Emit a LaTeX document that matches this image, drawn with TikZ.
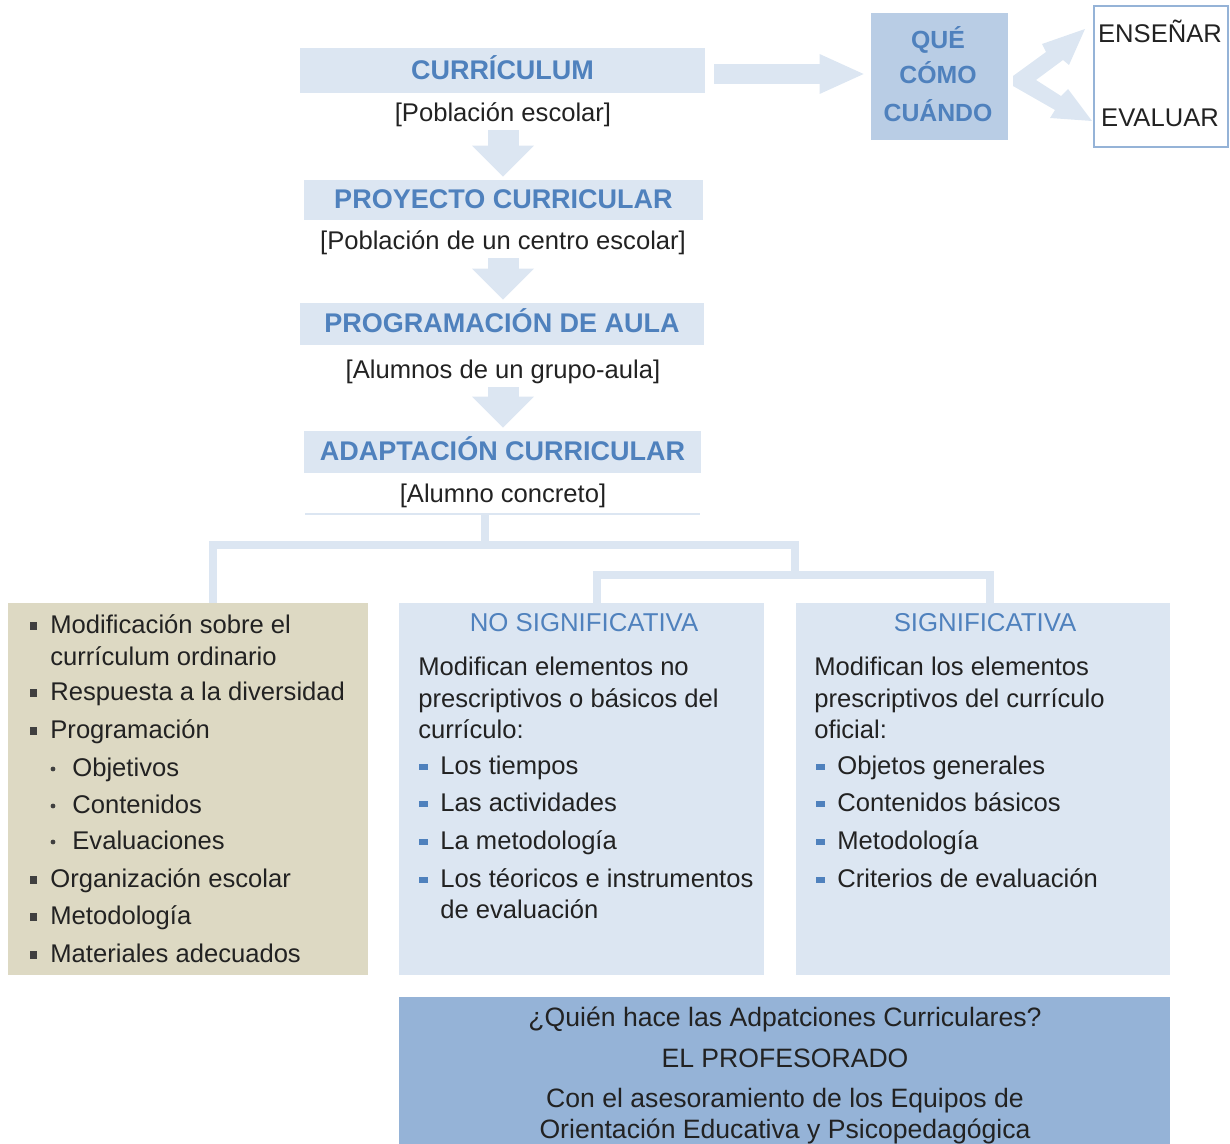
\documentclass[tikz,border=0pt]{standalone}
\usepackage{fontspec}
\setmainfont{Liberation Sans}
\usetikzlibrary{positioning, arrows.meta}

\definecolor{paleblue}{HTML}{DCE6F2}
\definecolor{midblue}{HTML}{B9CDE5}
\definecolor{deepblue}{HTML}{95B3D7}
\definecolor{headblue}{HTML}{4F81BD}
\definecolor{sand}{HTML}{DDD9C3}
\definecolor{ink}{HTML}{222222}
\definecolor{dotgray}{HTML}{404040}

\begin{document}
\begin{tikzpicture}[x=0.5pt, y=-0.5pt,
    txt/.style={anchor=west, inner sep=0pt, text height=0.88em, text depth=0pt, text=ink, font=\fontsize{12.8}{16}\selectfont},
    lab/.style={txt, anchor=center},
    title/.style={lab, text=headblue, font=\fontsize{12.9}{16}\selectfont},
    qtxt/.style={lab, text=headblue, font=\bfseries\fontsize{12.4}{16}\selectfont},
    bar/.style={fill=paleblue, inner sep=0pt, text height=0.88em, text depth=0pt, text=headblue, font=\bfseries\fontsize{13.5}{16}\selectfont},
    panel/.style={inner sep=0pt, minimum height=186pt},
    downarrow/.style={paleblue, line width=15.5pt, shorten <=4pt, shorten >=1.5pt, -{Triangle[width=31pt, length=15.5pt, line width=0pt]}},
    tree/.style={paleblue, line width=3.75pt}]

    \useasboundingbox (0,0) rectangle (1230,1144);

    \node[bar, minimum width=202.5pt, minimum height=22.5pt] (cur) at (502.5,70.5) {CURRÍCULUM};
    \node[lab] (s1) at (503,113) {[Población escolar]};
    \node[bar, minimum width=199.5pt, minimum height=20pt] (proy) at (503.5,200) {PROYECTO CURRICULAR};
    \node[lab] (s2) at (503,241) {[Población de un centro escolar]};
    \node[bar, minimum width=202pt, minimum height=21pt] (prog) at (502,324) {PROGRAMACIÓN DE AULA};
    \node[lab] (s3) at (503,370) {[Alumnos de un grupo-aula]};
    \node[bar, minimum width=198.5pt, minimum height=21pt] (adap) at (502.5,452) {ADAPTACIÓN CURRICULAR};
    \node[lab] (s4) at (503,494) {[Alumno concreto]};

    \draw[downarrow] (s1.south) -- (s1.south |- proy.north);
    \draw[downarrow] (s2.south) -- (s2.south |- prog.north);
    \draw[downarrow] (s3.south) -- (s3.south |- adap.north);

    \node[fill=midblue, inner sep=0pt, minimum width=68.5pt, minimum height=63.25pt] (que) at (939.5,76.75) {};
    \foreach \y/\t [count=\i] in {40/QUÉ, 75/CÓMO, 113/CUÁNDO}
        \node[qtxt] (q\i) at (938,\y) {\t};
    \node[draw=deepblue, line width=0.75pt, inner sep=0pt, minimum width=67pt, minimum height=70.5pt] (ens) at (1161,76.5) {};
    \node[lab] (e1) at (1160,34) {ENSEÑAR};
    \node[lab] (e2) at (1160,118) {EVALUAR};

    \coordinate (ra) at ([yshift=-1.75pt]cur.east);
    \draw[paleblue, line width=10pt, shorten <=4.5pt, shorten >=3.5pt, -{Triangle[width=20pt, length=22pt, line width=0pt]}] (ra) -- (ra -| que.west);
    \fill[paleblue] (1013,76) -- (1046,52) -- (1042,44) -- (1085,29) -- (1069,65) -- (1063,60) -- (1036,80)
        -- (1061,96) -- (1068,89) -- (1092,121) -- (1050,118) -- (1055,110) -- (1013,86) -- cycle;

    \node[panel, fill=sand, minimum width=180pt] (lbox) at (188,789) {};
    \node[panel, fill=paleblue, minimum width=182.5pt] (mbox) at (581.5,789) {};
    \node[panel, fill=paleblue, minimum width=187pt] (rbox) at (983,789) {};
    \node[fill=deepblue, inner sep=0pt, minimum width=385.5pt, minimum height=73.5pt] (who) at (784.5,1070.5) {};

    \coordinate (stem) at (485,514);
    \coordinate (j1) at (485,545);
    \coordinate (j2) at (795,575);
    \coordinate (tl) at ([xshift=12.5pt]lbox.north);
    \coordinate (tm) at ([xshift=7.75pt]mbox.north);
    \coordinate (tr) at ([xshift=3.5pt]rbox.north);
    \draw[paleblue, line width=1pt] (305,514) -- (700,514);
    \draw[tree] (stem) -- (j1);
    \draw[tree] (tl) |- (j2 |- j1) -- (j2);
    \draw[tree] (tm) |- (tr |- j2) -- (tr);

    \foreach \y/\t [count=\i] in {625/Modificación sobre el, 692/Respuesta a la diversidad, 730/Programación, 879/Organización escolar, 916/Metodología, 954/Materiales adecuados}
        {\fill[dotgray] (29.5,\y-3) rectangle ++(7.5,7.5);
         \node[txt] (la\i) at (50,\y) {\t};}
    \node[txt] (la0) at (50,657) {currículum ordinario};
    \foreach \y/\t [count=\i] in {768/Objetivos, 805/Contenidos, 841/Evaluaciones}
        {\fill[dotgray] (53,\y+1) circle (1.2pt);
         \node[txt] (lb\i) at (72,\y) {\t};}

    \node[title] (mt) at (584,623) {NO SIGNIFICATIVA};
    \foreach \y/\t [count=\i] in {667/Modifican elementos no, 699/prescriptivos o básicos del, 730/currículo:}
        \node[txt] (mp\i) at (418,\y) {\t};
    \foreach \y/\t [count=\i] in {766/Los tiempos, 803/Las actividades, 841/La metodología, 879/Los téoricos e instrumentos}
        {\fill[headblue] (419,\y-2.5) rectangle ++(9,6.5);
         \node[txt] (mi\i) at (440,\y) {\t};}
    \node[txt] (mi5) at (440,910) {de evaluación};

    \node[title] (rt) at (985,623) {SIGNIFICATIVA};
    \foreach \y/\t [count=\i] in {667/Modifican los elementos, 699/prescriptivos del currículo, 730/oficial:}
        \node[txt] (rp\i) at (814,\y) {\t};
    \foreach \y/\t [count=\i] in {766/Objetos generales, 803/Contenidos básicos, 841/Metodología, 879/Criterios de evaluación}
        {\fill[headblue] (816,\y-2.5) rectangle ++(9,6.5);
         \node[txt] (ri\i) at (837,\y) {\t};}

    \foreach \y/\t [count=\i] in {1018/¿Quién hace las Adpatciones Curriculares?, 1059/EL PROFESORADO, 1099/Con el asesoramiento de los Equipos de, 1130/Orientación Educativa y Psicopedagógica}
        \node[lab, font=\fontsize{13.3}{16}\selectfont] (w\i) at (785,\y) {\t};
\end{tikzpicture}
\end{document}
